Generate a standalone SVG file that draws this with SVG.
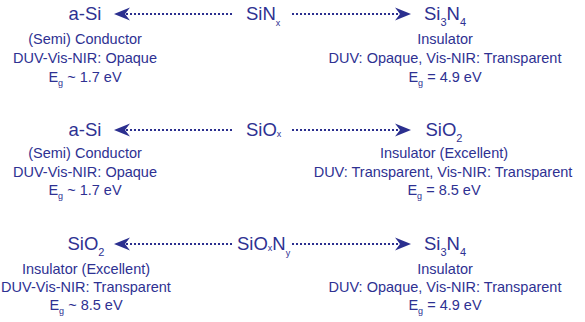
<svg xmlns="http://www.w3.org/2000/svg" width="585" height="322" viewBox="0 0 585 322">
<style>
text{font-family:"Liberation Sans",Arial,sans-serif;fill:#2e3192;text-anchor:middle}
.h{font-size:18.5px}
.s{font-size:14.5px}
.m{text-anchor:start}
.sub{font-size:11px}
.subs{font-size:9px}
.dot{stroke:#2b2f8f;stroke-width:2;stroke-dasharray:2 2;fill:none}
.head{fill:#2b2f8f}
</style>
<rect width="585" height="322" fill="#fff"/>
<g id="connectors">
<path class="dot" d="M126,14 H232"/><path class="head" d="M114,14 L130,7.5 L125,14 L130,20.5 Z"/>
<path class="dot" d="M292,14 H400"/><path class="head" d="M411,14 L395,7.5 L400,14 L395,20.5 Z"/>
<path class="dot" d="M126,130 H232"/><path class="head" d="M114,130 L130,123.5 L125,130 L130,136.5 Z"/>
<path class="dot" d="M292,130 H400"/><path class="head" d="M411,130 L395,123.5 L400,130 L395,136.5 Z"/>
<path class="dot" d="M126,244 H234"/><path class="head" d="M114,244 L130,237.5 L125,244 L130,250.5 Z"/>
<path class="dot" d="M292,244 H400"/><path class="head" d="M411,244 L395,237.5 L400,244 L395,250.5 Z"/>
</g>
<g id="row1-left">
<text class="h" x="85" y="20">a-Si</text>
<text class="s" x="85" y="44">(Semi) Conductor</text>
<text class="s" x="85" y="63">DUV-Vis-NIR: Opaque</text>
<text class="s" x="85" y="82">E<tspan class="subs" dy="4">g</tspan><tspan dy="-4"> ~ 1.7 eV</tspan></text>
</g>
<g id="row1-mid">
<text class="h m" x="246" y="20">SiN<tspan class="subs" dy="6">x</tspan></text>
</g>
<g id="row1-right">
<text class="h" x="445" y="20">Si<tspan class="sub" dy="6">3</tspan><tspan dy="-6">N</tspan><tspan class="sub" dy="6">4</tspan></text>
<text class="s" x="445" y="44">Insulator</text>
<text class="s" x="445" y="63">DUV: Opaque, Vis-NIR: Transparent</text>
<text class="s" x="445" y="82">E<tspan class="subs" dy="4">g</tspan><tspan dy="-4"> = 4.9 eV</tspan></text>
</g>
<g id="row2-left">
<text class="h" x="85" y="136">a-Si</text>
<text class="s" x="85" y="158">(Semi) Conductor</text>
<text class="s" x="85" y="177">DUV-Vis-NIR: Opaque</text>
<text class="s" x="85" y="195">E<tspan class="subs" dy="4">g</tspan><tspan dy="-4"> ~ 1.7 eV</tspan></text>
</g>
<g id="row2-mid">
<text class="h m" x="246" y="136">SiO<tspan class="subs" dy="1">x</tspan></text>
</g>
<g id="row2-right">
<text class="h" x="444" y="136">SiO<tspan class="sub" dy="6">2</tspan></text>
<text class="s" x="444" y="158">Insulator (Excellent)</text>
<text class="s" x="443" y="177">DUV: Transparent, Vis-NIR: Transparent</text>
<text class="s" x="444" y="195">E<tspan class="subs" dy="4">g</tspan><tspan dy="-4"> = 8.5 eV</tspan></text>
</g>
<g id="row3-left">
<text class="h" x="86" y="250">SiO<tspan class="sub" dy="6">2</tspan></text>
<text class="s" x="86" y="274">Insulator (Excellent)</text>
<text class="s" x="86" y="292">DUV-Vis-NIR: Transparent</text>
<text class="s" x="86" y="310">E<tspan class="subs" dy="4">g</tspan><tspan dy="-4"> ~ 8.5 eV</tspan></text>
</g>
<g id="row3-mid">
<text class="h m" x="237" y="250">SiO<tspan class="subs" dy="1">x</tspan><tspan dy="-1">N</tspan><tspan class="subs" dy="6">y</tspan></text>
</g>
<g id="row3-right">
<text class="h" x="445" y="250">Si<tspan class="sub" dy="6">3</tspan><tspan dy="-6">N</tspan><tspan class="sub" dy="6">4</tspan></text>
<text class="s" x="445" y="274">Insulator</text>
<text class="s" x="445" y="292">DUV: Opaque, Vis-NIR: Transparent</text>
<text class="s" x="445" y="310">E<tspan class="subs" dy="4">g</tspan><tspan dy="-4"> = 4.9 eV</tspan></text>
</g>
</svg>
